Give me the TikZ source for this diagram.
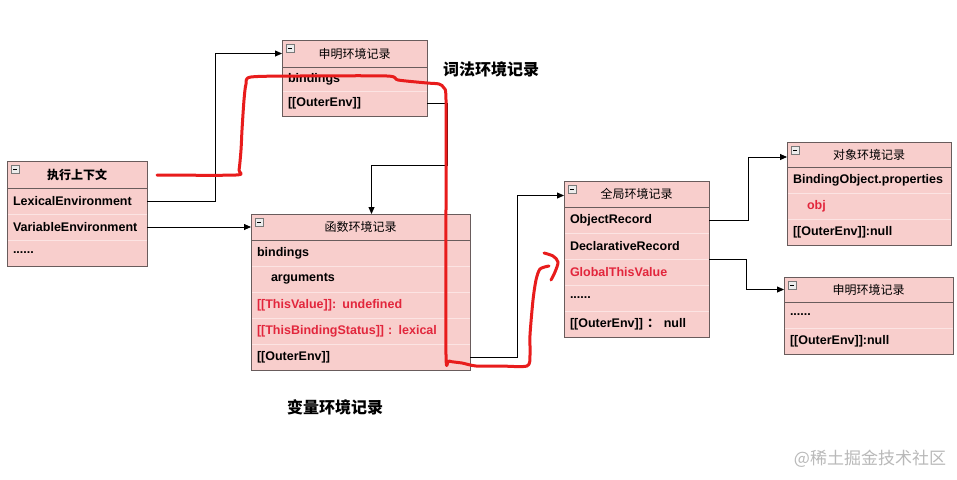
\documentclass[tikz,border=0pt]{standalone}
\usepackage{fontspec}
\setmainfont{Liberation Sans}
\newfontfamily\cjk{Noto Sans CJK SC}
\usetikzlibrary{arrows.meta,calc}
\definecolor{boxfill}{RGB}{248,206,204}
\definecolor{boxline}{RGB}{105,92,92}
\definecolor{sepline}{RGB}{252,228,227}
\definecolor{redtext}{RGB}{226,38,60}
\definecolor{pen}{RGB}{232,28,28}
\definecolor{wm}{RGB}{185,185,185}
\definecolor{icongray}{RGB}{120,120,120}
\newcommand\mkicon[1]{%
  \draw[icongray,fill=white!85!gray,line width=0.6pt] ($(#1.north west)+(4,4)$) rectangle ++(8,8);
  \draw[black,line width=0.7pt] ($(#1.north west)+(6,8)$) -- ++(4,0);}
\begin{document}
\begin{tikzpicture}[x=1pt,y=-1pt,
  row/.style={rectangle,anchor=north west,fill=boxfill,draw=sepline,line width=0.8pt,
    minimum height=26pt,inner xsep=6pt,inner ysep=0pt,outer sep=0pt,align=left,
    font=\fontsize{12.5}{14}\selectfont\bfseries},
  head/.style={rectangle,anchor=north west,fill=boxfill,draw=boxline,line width=0.8pt,
    minimum height=26pt,inner xsep=6pt,inner ysep=0pt,outer sep=0pt,align=center,
    font=\cjk\fontsize{12}{14}\selectfont},
  red/.style={text=redtext},
  frame/.style={draw=boxline,line width=0.8pt},
  conn/.style={draw=black,line width=0.8pt,-{Triangle[length=7pt,width=6pt]}},
  redpen/.style={draw=pen,line width=3pt,line cap=round,line join=round},
  lbl/.style={font=\cjk\bfseries\fontsize{16}{18}\selectfont,inner sep=0pt},
  wmk/.style={font=\cjk\fontsize{17}{18}\selectfont,text=wm,inner sep=0pt},
  wE/.style={text width=128pt},
  wD/.style={text width=133pt},
  wF/.style={text width=207pt},
  wO/.style={text width=152pt},
  wR/.style={text width=157pt}
]
\fill[white] (0,0) rectangle (957,479);
\useasboundingbox (0,0) rectangle (957,479);

% ---- execution context
\node[row,wE] (lex) at (7,188) {LexicalEnvironment};
\node[row,wE] (var) at (7,214) {VariableEnvironment};
\node[row,wE] (edots) at (7,240) {......};
\node[head,wE,minimum height=27pt,font=\cjk\bfseries\fontsize{12}{14}\selectfont] (eh) at (7,161) {执行上下文};
\draw[frame] (eh.north west) rectangle (edots.south east);
\mkicon{eh}

% ---- top declarative record
\node[row,wD,minimum height=24.5pt] (dbind) at (282,67) {bindings};
\node[row,wD,minimum height=24.5pt] (douter) at (282,91.5) {[[OuterEnv]]};
\node[head,wD,minimum height=27pt] (dh) at (282,40) {申明环境记录};
\draw[frame] (dh.north west) rectangle (douter.south east);
\mkicon{dh}

% ---- function record
\node[row,wF] (fbind) at (251,240) {bindings};
\node[row,wF] (fargs) at (251,266) {\hspace*{14pt}arguments};
\node[row,wF,red] (fthis) at (251,292) {[[ThisValue]]: undefined};
\node[row,wF,red] (fstatus) at (251,318) {[[ThisBindingStatus]] : lexical};
\node[row,wF] (fouter) at (251,344) {[[OuterEnv]]};
\node[head,wF] (fh) at (251,214) {函数环境记录};
\draw[frame] (fh.north west) rectangle (fouter.south east);
\mkicon{fh}

% ---- global record
\node[row,wD] (gobj) at (564,207) {ObjectRecord};
\node[row,wD] (gdecl) at (564,233) {DeclarativeRecord};
\node[row,wD,red] (gthis) at (564,259) {GlobalThisValue};
\node[row,wD] (gdots) at (564,285) {......};
\node[row,wD] (gouter) at (564,311) {[[OuterEnv]] {\cjk ：} null};
\node[head,wD] (gh) at (564,181) {全局环境记录};
\draw[frame] (gh.north west) rectangle (gouter.south east);
\mkicon{gh}

% ---- object record
\node[row,wO] (oprops) at (787,167) {BindingObject.properties};
\node[row,wO,red] (oobj) at (787,193) {\hspace*{14pt}obj};
\node[row,wO] (oouter) at (787,219) {[[OuterEnv]]:null};
\node[head,wO,minimum height=25pt] (oh) at (787,142) {对象环境记录};
\draw[frame] (oh.north west) rectangle (oouter.south east);
\mkicon{oh}

% ---- right declarative record
\node[row,wR] (rdots) at (784,302) {......};
\node[row,wR] (router) at (784,328) {[[OuterEnv]]:null};
\node[head,wR,minimum height=25pt] (rh) at (784,277) {申明环境记录};
\draw[frame] (rh.north west) rectangle (router.south east);
\mkicon{rh}

% ---- labels
\node[lbl] (lexlabel) at (491,69) {词法环境记录};
\node[lbl] (varlabel) at (335,407) {变量环境记录};
\node[wmk] (wmark) at (870,459) {@稀土掘金技术社区};

% ---- connectors
\draw[conn] (lex.east) -- ++(68,0) |- (dh.west);
\draw[conn] (var.east) -- (fh.west);
\draw[conn] (douter.east) -- ++(20,0) -- ++(0,62) -| ([xshift=11pt]fh.north);
\draw[conn] (fouter.east) -- ++(47,0) |- ([yshift=-1.5pt]gh.west);
\draw[conn] (gobj.east) -- ++(39,0) |- ([yshift=-2.5pt]oh.west);
\draw[conn] (gdecl.south east) -- ++(37,0) |- (rh.west);

% ---- hand-drawn red marks
\draw[redpen] plot[smooth,tension=0.45] coordinates {(157,175) (236,175) (239,170) (241,150) (242,130) (244,100) (246,84) (251,77) (300,76) (387,76) (398,80) (427,83) (439,84) (444,88) (446,100) (446,200) (446,355) (449,361) (462,363) (476,366) (500,366) (527,366) (530,355) (530,335) (533,300) (536,280) (540,269) (549,266)};
\draw[redpen] plot[smooth,tension=0.5] coordinates {(544,253) (553,256) (558,262) (555,272) (551,280)};
\end{tikzpicture}
\end{document}
